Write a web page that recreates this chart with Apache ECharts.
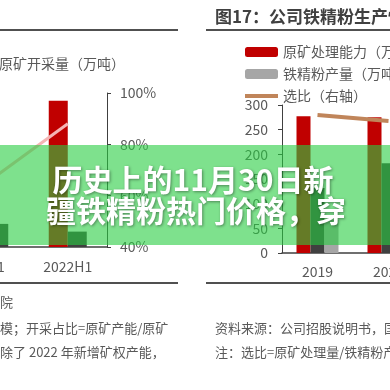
<!DOCTYPE html>
<html>
<head>
<meta charset="utf-8">
<script src="https://cdn.jsdelivr.net/npm/echarts@6/dist/echarts.min.js"></script>
<style>html,body{margin:0;padding:0;background:#fff;}#c{width:390px;height:390px;}</style>
</head>
<body>
<div id="c"></div>
<script>
// Left chart (partially visible)
const leftCats = ['2021', '2022H1'];
const leftMined = [60, 95];          // 原矿开采量（万吨） red bars (hidden scale)
const leftCapacity = [15, 10];       // dark bars (hidden scale)
const leftShare = [65.7, 88];        // 开采占比 % (right axis)
const leftShareTicks = [40, 100, 20];
// Right chart: 图17
const rightCats = ['2019', '2020'];
const capacity = [277, 275];         // 原矿处理能力（万吨）
const processed = [132, 182];        // 原矿处理量（万吨）
const concentrate = [67, 95];        // 铁精粉产量（万吨）
const ratio = [3.73, 3.57];          // 选比（右轴）
const rightTicks = [0, 300, 50];

const FONT = '"Noto Sans CJK SC", "Noto Sans", sans-serif';
const TXT = '#595959';
const AX = '#404040';

const chart = echarts.init(document.getElementById('c'), null, {renderer: 'canvas'});
chart.setOption({
  animation: false,
  backgroundColor: '#fff',
  textStyle: {fontFamily: FONT},
  title: {
    text: '图17：公司铁精粉生产情况',
    left: 210, top: 3,
    textStyle: {fontSize: 17, fontWeight: 'bold', color: '#404040', fontFamily: FONT}
  },
  legend: [
    {
      data: ['原矿开采量（万吨）'],
      left: -44, top: 52,
      itemWidth: 33, itemHeight: 10,
      textStyle: {fontSize: 14, color: TXT, fontFamily: FONT}
    },
    {
      data: ['原矿处理能力（万吨）', '铁精粉产量（万吨）',
             {name: '选比（右轴）', icon: 'path://M0,3H33V7H0Z'}],
      orient: 'vertical',
      left: 240, top: 40,
      itemGap: 8,
      itemWidth: 33, itemHeight: 10,
      symbolKeepAspect: true,
      textStyle: {fontSize: 14, color: TXT, fontFamily: FONT}
    }
  ],
  grid: [
    {left: -50, top: 93, width: 157, height: 154, outerBoundsMode: 'none', containLabel: false},
    {left: 282, top: 105, width: 142, height: 148, outerBoundsMode: 'none', containLabel: false}
  ],
  xAxis: [
    {
      gridIndex: 0, type: 'category', data: leftCats,
      axisLine: {lineStyle: {color: AX, width: 1.5}},
      axisTick: {length: 5, lineStyle: {color: AX}},
      axisLabel: {margin: 13, fontSize: 14, color: TXT, interval: 0}
    },
    {
      gridIndex: 1, type: 'category', data: rightCats,
      axisLine: {lineStyle: {color: AX, width: 1.5}},
      axisTick: {length: 5, lineStyle: {color: AX}},
      axisLabel: {margin: 12, fontSize: 14, color: TXT, interval: 0}
    }
  ],
  yAxis: [
    {gridIndex: 0, type: 'value', position: 'left', min: 0, max: 100, show: false},
    {
      gridIndex: 0, type: 'value', position: 'right',
      min: leftShareTicks[0], max: leftShareTicks[1], interval: leftShareTicks[2],
      axisLine: {show: true, lineStyle: {color: AX}},
      axisTick: {show: true, length: 4, lineStyle: {color: AX}},
      splitLine: {show: false},
      axisLabel: {formatter: '{value}%', margin: 13, fontSize: 14, color: TXT}
    },
    {
      gridIndex: 1, type: 'value', position: 'left',
      min: rightTicks[0], max: rightTicks[1], interval: rightTicks[2],
      axisLine: {show: true, lineStyle: {color: AX}},
      axisTick: {show: true, length: 4, lineStyle: {color: AX}},
      splitLine: {show: false},
      axisLabel: {margin: 14, fontSize: 14, color: TXT}
    },
    {gridIndex: 1, type: 'value', position: 'right', min: 0, max: 4, show: false}
  ],
  series: [
    {name: '原矿开采量（万吨）', type: 'bar', xAxisIndex: 0, yAxisIndex: 0, data: leftMined,
     barWidth: 19, barGap: '0%', itemStyle: {color: '#c00000'}},
    {name: '原矿产能（万吨）', type: 'bar', xAxisIndex: 0, yAxisIndex: 0, data: leftCapacity,
     barWidth: 19, barGap: '0%', itemStyle: {color: '#404040'}},
    {name: '开采占比（右轴）', type: 'line', xAxisIndex: 0, yAxisIndex: 1, data: leftShare,
     symbol: 'none', lineStyle: {color: '#f4b4b4', width: 3}, itemStyle: {color: '#f4b4b4'}},
    {name: '原矿处理能力（万吨）', type: 'bar', xAxisIndex: 1, yAxisIndex: 2, data: capacity,
     barWidth: 14, barGap: '0%', itemStyle: {color: '#c00000'}},
    {name: '原矿处理量（万吨）', type: 'bar', xAxisIndex: 1, yAxisIndex: 2, data: processed,
     barWidth: 14, barGap: '0%', itemStyle: {color: '#404040'}},
    {name: '铁精粉产量（万吨）', type: 'bar', xAxisIndex: 1, yAxisIndex: 2, data: concentrate,
     barWidth: 14, barGap: '0%', itemStyle: {color: '#a6a6a6'}},
    {name: '选比（右轴）', type: 'line', xAxisIndex: 1, yAxisIndex: 3, data: ratio,
     symbol: 'none', lineStyle: {color: '#c0855a', width: 4}, itemStyle: {color: '#c0855a'}}
  ],
  graphic: [
    {type: 'rect', shape: {x: 0, y: 29, width: 178, height: 2}, style: {fill: '#505050'}},
    {type: 'rect', shape: {x: 206, y: 29, width: 184, height: 2}, style: {fill: '#505050'}},
    {type: 'rect', shape: {x: 0, y: 282, width: 178, height: 2}, style: {fill: '#505050'}},
    {type: 'rect', shape: {x: 206, y: 282, width: 184, height: 2}, style: {fill: '#505050'}},
    {type: 'text', x: 0, y: 302, style: {text: '院', font: '13px ' + FONT, fill: TXT, verticalAlign: 'middle'}},
    {type: 'text', x: 0, y: 328, style: {text: '模；开采占比=原矿产能/原矿', font: '13px ' + FONT, fill: TXT, verticalAlign: 'middle'}},
    {type: 'text', x: 0, y: 352, style: {text: '除了 2022 年新增矿权产能，', font: '13px ' + FONT, fill: TXT, verticalAlign: 'middle'}},
    {type: 'text', x: 215, y: 328, style: {text: '资料来源：公司招股说明书，国', font: '13px ' + FONT, fill: TXT, verticalAlign: 'middle'}},
    {type: 'text', x: 215, y: 352, style: {text: '注：选比=原矿处理量/铁精粉产量', font: '13px ' + FONT, fill: TXT, verticalAlign: 'middle'}},
    {type: 'rect', z: 100, shape: {x: 0, y: 145, width: 390, height: 100}, style: {fill: 'rgba(40,205,65,0.6)'}},
    {type: 'text', z: 101, x: 193, y: 180, style: {text: '历史上的11月30日新', font: 'bold 30px ' + FONT, fill: '#fff',
      align: 'center', verticalAlign: 'middle', textShadowColor: 'rgba(0,0,0,0.4)', textShadowBlur: 3, textShadowOffsetX: 1, textShadowOffsetY: 1}},
    {type: 'text', z: 101, x: 196, y: 211, style: {text: '疆铁精粉热门价格，穿', font: 'bold 30px ' + FONT, fill: '#fff',
      align: 'center', verticalAlign: 'middle', textShadowColor: 'rgba(0,0,0,0.4)', textShadowBlur: 3, textShadowOffsetX: 1, textShadowOffsetY: 1}}
  ]
});
</script>
</body>
</html>
